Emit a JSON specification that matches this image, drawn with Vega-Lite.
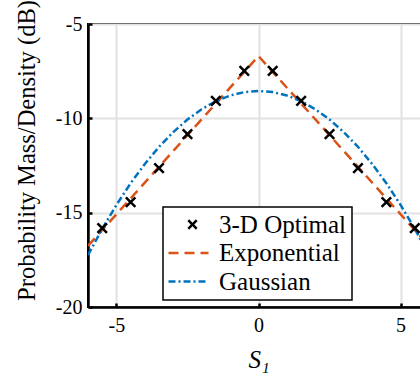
{
  "$schema": "https://vega.github.io/schema/vega-lite/v6.json",
  "width": 341,
  "height": 283,
  "autosize": {"type": "none"},
  "padding": {"left": 88, "top": 24, "right": 0, "bottom": 70},
  "background": "white",
  "config": {
    "font": "Liberation Serif",
    "view": {"stroke": "black", "strokeWidth": 2},
    "axis": {
      "domainColor": "black", "domainWidth": 2.5,
      "gridColor": "#e2e2e2", "gridWidth": 2, "gridOpacity": 1,
      "tickColor": "black", "tickWidth": 2.5, "tickSize": -4,
      "labelFont": "Liberation Serif", "labelFontSize": 20, "labelColor": "black",
      "titleFont": "Liberation Serif", "titleFontSize": 24.5, "titleColor": "black", "titleFontWeight": "normal"
    }
  },
  "datasets": {
    "pts": [
      {"s": -5.5, "p": -15.82, "series": "3-D Optimal"},
      {"s": -4.5, "p": -14.44, "series": "3-D Optimal"},
      {"s": -3.5, "p": -12.64, "series": "3-D Optimal"},
      {"s": -2.5, "p": -10.84, "series": "3-D Optimal"},
      {"s": -1.5, "p": -9.08, "series": "3-D Optimal"},
      {"s": -0.5, "p": -7.49, "series": "3-D Optimal"},
      {"s": 0.5, "p": -7.49, "series": "3-D Optimal"},
      {"s": 1.5, "p": -9.08, "series": "3-D Optimal"},
      {"s": 2.5, "p": -10.84, "series": "3-D Optimal"},
      {"s": 3.5, "p": -12.64, "series": "3-D Optimal"},
      {"s": 4.5, "p": -14.44, "series": "3-D Optimal"},
      {"s": 5.5, "p": -15.82, "series": "3-D Optimal"}
    ],
    "lines": [
      {"s": -6, "p": -16.76, "series": "Exponential"},
      {"s": -3, "p": -11.73, "series": "Exponential"},
      {"s": 0, "p": -6.70, "series": "Exponential"},
      {"s": 3, "p": -11.73, "series": "Exponential"},
      {"s": 6, "p": -16.76, "series": "Exponential"},
      {"s": -6, "p": -17.25, "series": "Gaussian"},
      {"s": -5.5, "p": -15.86, "series": "Gaussian"},
      {"s": -5, "p": -14.59, "series": "Gaussian"},
      {"s": -4.5, "p": -13.44, "series": "Gaussian"},
      {"s": -4, "p": -12.42, "series": "Gaussian"},
      {"s": -3.5, "p": -11.51, "series": "Gaussian"},
      {"s": -3, "p": -10.73, "series": "Gaussian"},
      {"s": -2.5, "p": -10.06, "series": "Gaussian"},
      {"s": -2, "p": -9.52, "series": "Gaussian"},
      {"s": -1.5, "p": -9.09, "series": "Gaussian"},
      {"s": -1, "p": -8.79, "series": "Gaussian"},
      {"s": -0.5, "p": -8.61, "series": "Gaussian"},
      {"s": 0, "p": -8.55, "series": "Gaussian"},
      {"s": 0.5, "p": -8.61, "series": "Gaussian"},
      {"s": 1, "p": -8.79, "series": "Gaussian"},
      {"s": 1.5, "p": -9.09, "series": "Gaussian"},
      {"s": 2, "p": -9.52, "series": "Gaussian"},
      {"s": 2.5, "p": -10.06, "series": "Gaussian"},
      {"s": 3, "p": -10.73, "series": "Gaussian"},
      {"s": 3.5, "p": -11.51, "series": "Gaussian"},
      {"s": 4, "p": -12.42, "series": "Gaussian"},
      {"s": 4.5, "p": -13.44, "series": "Gaussian"},
      {"s": 5, "p": -14.59, "series": "Gaussian"},
      {"s": 5.5, "p": -15.86, "series": "Gaussian"},
      {"s": 6, "p": -17.25, "series": "Gaussian"}
    ]
  },
  "encoding": {
    "x": {
      "field": "s", "type": "quantitative",
      "scale": {"domain": [-6, 6], "nice": false, "zero": false},
      "axis": {
        "values": [-5, 0, 5], "title": "S₁", "titleFontStyle": "italic", "titleFontSize": 25,
        "labelPadding": 12, "titlePadding": 12,
        "labelExpr": "datum.value < 0 ? '-' + abs(datum.value) : '' + datum.value"
      }
    },
    "y": {
      "field": "p", "type": "quantitative",
      "scale": {"domain": [-20, -5], "nice": false, "zero": false},
      "axis": {
        "values": [-20, -15, -10, -5], "title": "Probability Mass/Density (dB)",
        "labelPadding": 10, "titleX": -49, "titleY": 126, "titleBaseline": "bottom", "titleAngle": -90, "titleAlign": "center",
        "labelExpr": "datum.value < 0 ? '-' + abs(datum.value) : '' + datum.value"
      }
    },
    "color": {
      "field": "series", "type": "nominal",
      "scale": {"domain": ["3-D Optimal", "Exponential", "Gaussian"], "range": ["black", "#D95319", "#0072BD"]},
      "legend": {
        "orient": "none", "legendX": 75, "legendY": 183,
        "title": null,
        "strokeColor": "black", "fillColor": "white", "padding": 5,
        "labelFont": "Liberation Serif", "labelFontSize": 25, "labelColor": "black",
        "labelOffset": 18, "symbolOffset": 8, "rowPadding": 2.5,
        "symbolSize": 100, "symbolStrokeWidth": 2.5,
        "encode": {
          "legend": {"update": {"strokeWidth": {"value": 1.5}}},
          "symbols": {
            "update": {
              "shape": {"signal": "datum.value === '3-D Optimal' ? 'M-0.05,-0.85L1.65,0.85M-0.05,0.85L1.65,-0.85' : 'M-4,0L4,0'"},
              "strokeDash": {"signal": "datum.value === 'Exponential' ? [10,6] : (datum.value === 'Gaussian' ? [7,3,2,3] : [1,0])"},
              "strokeWidth": {"value": 2.5},
              "fill": {"value": "transparent"}
            }
          }
        }
      }
    }
  },
  "layer": [
    {
      "data": {"name": "lines"},
      "mark": {"type": "line", "strokeWidth": 2.5, "clip": true},
      "encoding": {
        "strokeDash": {
          "field": "series", "type": "nominal",
          "scale": {"domain": ["Exponential", "Gaussian"], "range": [[10, 6], [7, 3, 2, 3]]},
          "legend": null
        }
      }
    },
    {
      "data": {"name": "pts"},
      "mark": {"type": "point", "shape": "M-1,-1L1,1M-1,1L1,-1", "filled": false, "size": 90, "strokeWidth": 2.5, "opacity": 1}
    }
  ]
}
